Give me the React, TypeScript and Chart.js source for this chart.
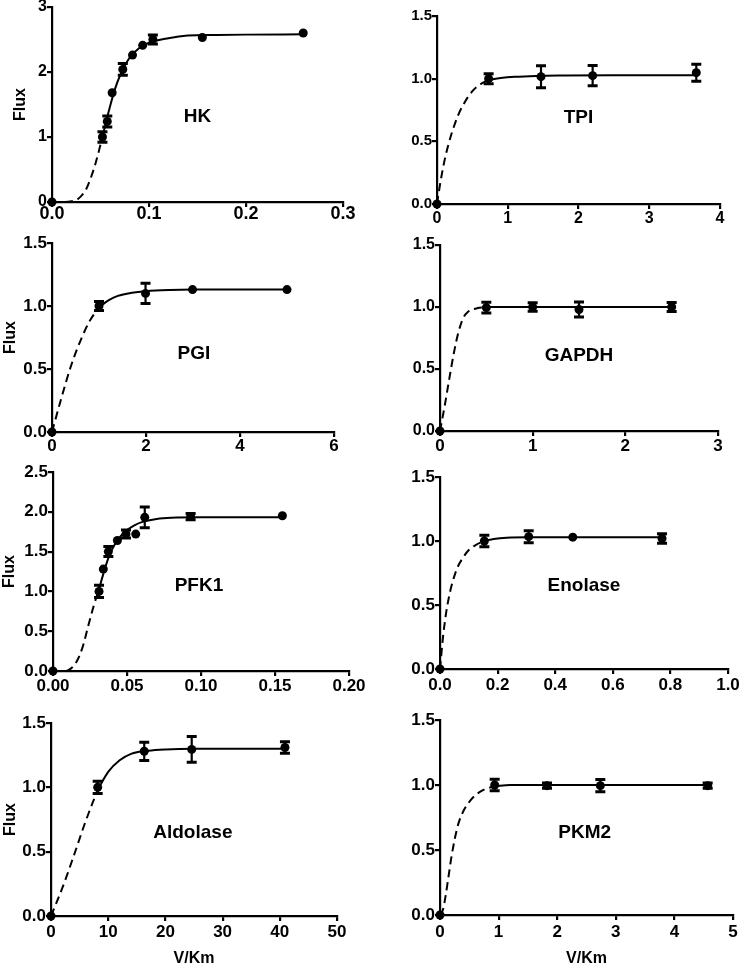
import React, { useEffect, useRef } from "react";
import { Chart, registerables } from "chart.js";

Chart.register(...registerables);

const INK = "#000000";
const FONT = "'Liberation Sans', Arial, sans-serif";

// ---------- HK ----------
const hkX = [0, 0.052, 0.057, 0.062, 0.073, 0.083, 0.0935, 0.104, 0.155, 0.259];
const hkFlux = [0, 1.0, 1.24, 1.68, 2.04, 2.26, 2.41, 2.5, 2.53, 2.6];
const hkErr = [0, 0.08, 0.085, 0, 0.09, 0, 0, 0.07, 0, 0];
const hkFitDashX = [0, 0.01, 0.02, 0.025, 0.03, 0.035, 0.04, 0.045, 0.052];
const hkFitDashY = [0, 0, 0.01, 0.03, 0.09, 0.19, 0.37, 0.6, 1.0];
const hkFitX = [0.052, 0.055, 0.06, 0.065, 0.07, 0.08, 0.09, 0.1, 0.12, 0.14, 0.17, 0.2, 0.26];
const hkFitY = [1.0, 1.19, 1.48, 1.74, 1.94, 2.22, 2.37, 2.45, 2.52, 2.56, 2.57, 2.575, 2.58];
const hkXTicks = [0, 0.1, 0.2, 0.3];
const hkYTicks = [0, 1, 2, 3];

// ---------- TPI ----------
const tpiX = [0, 0.73, 1.47, 2.2, 3.665];
const tpiFlux = [0, 1.0, 1.016, 1.024, 1.048];
const tpiErr = [0, 0.04, 0.088, 0.081, 0.068];
const tpiFitDashX = [0, 0.05, 0.1, 0.15, 0.2, 0.3, 0.4, 0.5, 0.6, 0.73];
const tpiFitDashY = [0, 0.18, 0.33, 0.45, 0.55, 0.71, 0.82, 0.9, 0.95, 0.99];
const tpiFitX = [0.73, 0.9, 1.1, 1.4, 1.8, 2.5, 3.665];
const tpiFitY = [0.99, 1.005, 1.015, 1.022, 1.025, 1.027, 1.027];
const tpiXTicks = [0, 1, 2, 3, 4];
const tpiYTicks = [0, 0.5, 1.0, 1.5];

// ---------- PGI ----------
const pgiX = [0, 1.0, 1.99, 2.99, 5.0];
const pgiFlux = [0, 1.0, 1.1, 1.13, 1.13];
const pgiErr = [0, 0.036, 0.08, 0, 0];
const pgiFitDashX = [0, 0.2, 0.4, 0.6, 0.8, 1.0];
const pgiFitDashY = [0, 0.27, 0.52, 0.72, 0.88, 0.99];
const pgiFitX = [1.0, 1.2, 1.4, 1.7, 2.0, 2.5, 3.0, 5.0];
const pgiFitY = [0.99, 1.045, 1.08, 1.105, 1.118, 1.127, 1.13, 1.13];
const pgiXTicks = [0, 2, 4, 6];
const pgiYTicks = [0, 0.5, 1.0, 1.5];

// ---------- GAPDH ----------
const gapdhX = [0, 0.5, 1.0, 1.5, 2.5];
const gapdhFlux = [0, 0.995, 1.0, 0.98, 1.0];
const gapdhErr = [0, 0.043, 0.034, 0.06, 0.036];
const gapdhFitDashX = [0, 0.05, 0.1, 0.15, 0.2, 0.25, 0.3, 0.4, 0.5];
const gapdhFitDashY = [0, 0.2, 0.42, 0.63, 0.8, 0.91, 0.96, 0.99, 1.0];
const gapdhFitX = [0.5, 2.5];
const gapdhFitY = [1.0, 1.0];
const gapdhXTicks = [0, 1, 2, 3];
const gapdhYTicks = [0, 0.5, 1.0, 1.5];

// ---------- PFK1 ----------
const pfkX = [0, 0.0311, 0.034, 0.0374, 0.0435, 0.0493, 0.0559, 0.062, 0.093, 0.155];
const pfkFlux = [0, 1.0, 1.28, 1.5, 1.64, 1.72, 1.72, 1.93, 1.94, 1.95];
const pfkErr = [0, 0.077, 0, 0.063, 0, 0.05, 0, 0.13, 0.04, 0];
const pfkFitDashX = [0, 0.008, 0.012, 0.016, 0.02, 0.024, 0.028, 0.031];
const pfkFitDashY = [0, 0, 0.03, 0.12, 0.3, 0.58, 0.85, 1.02];
const pfkFitX = [0.031, 0.034, 0.038, 0.042, 0.046, 0.05, 0.055, 0.06, 0.07, 0.08, 0.1, 0.155];
const pfkFitY = [1.02, 1.22, 1.45, 1.6, 1.7, 1.77, 1.83, 1.87, 1.91, 1.925, 1.93, 1.93];
const pfkXTicks = [0, 0.05, 0.1, 0.15, 0.2];
const pfkYTicks = [0, 0.5, 1.0, 1.5, 2.0, 2.5];

// ---------- Enolase ----------
const enoX = [0, 0.154, 0.308, 0.461, 0.771];
const enoFlux = [0, 1.0, 1.034, 1.03, 1.02];
const enoErr = [0, 0.045, 0.047, 0, 0.037];
const enoFitDashX = [0, 0.01, 0.02, 0.03, 0.04, 0.06, 0.08, 0.1, 0.125, 0.154];
const enoFitDashY = [0, 0.24, 0.42, 0.55, 0.65, 0.79, 0.87, 0.93, 0.97, 1.0];
const enoFitX = [0.154, 0.2, 0.25, 0.3, 0.771];
const enoFitY = [1.0, 1.02, 1.028, 1.03, 1.03];
const enoXTicks = [0, 0.2, 0.4, 0.6, 0.8, 1.0];
const enoYTicks = [0, 0.5, 1.0, 1.5];

// ---------- Aldolase ----------
const aldoX = [0, 8.16, 16.3, 24.6, 40.9];
const aldoFlux = [0, 1.0, 1.28, 1.295, 1.31];
const aldoErr = [0, 0.048, 0.071, 0.1, 0.045];
const aldoFitDashX = [0, 2, 4, 6, 8.16];
const aldoFitDashY = [0, 0.22, 0.47, 0.73, 0.98];
const aldoFitX = [8.16, 10, 12, 14, 17, 20, 25, 40.9];
const aldoFitY = [0.98, 1.12, 1.21, 1.26, 1.285, 1.295, 1.3, 1.3];
const aldoXTicks = [0, 10, 20, 30, 40, 50];
const aldoYTicks = [0, 0.5, 1.0, 1.5];

// ---------- PKM2 ----------
const pkmX = [0, 0.933, 1.826, 2.736, 4.568];
const pkmFlux = [0, 1.0, 0.995, 0.995, 0.995];
const pkmErr = [0, 0.044, 0.02, 0.047, 0.02];
const pkmFitDashX = [0, 0.05, 0.1, 0.15, 0.2, 0.3, 0.4, 0.5, 0.6, 0.75, 0.933];
const pkmFitDashY = [0, 0.04, 0.16, 0.31, 0.46, 0.68, 0.8, 0.87, 0.92, 0.965, 0.99];
const pkmFitX = [0.933, 1.2, 4.568];
const pkmFitY = [0.99, 1.0, 1.0];
const pkmXTicks = [0, 1, 2, 3, 4, 5];
const pkmYTicks = [0, 0.5, 1.0, 1.5];

type Panel = {
  name: string;
  px: number[]; py: number[]; pe: number[];
  dx: number[]; dy: number[]; sx: number[]; sy: number[];
  xTicks: number[]; yTicks: number[]; xDec: number; yDec: number;
  L: number; R: number; T: number; B: number;
  left: number; width: number; bottom: number;
  xFont: number; yFont: number; xPad: number;
  labelX: number; labelY: number;
  fluxPad?: number; vkm?: boolean;
};

const panels: Panel[] = [
  { name: "HK", px: hkX, py: hkFlux, pe: hkErr, dx: hkFitDashX, dy: hkFitDashY, sx: hkFitX, sy: hkFitY,
    xTicks: hkXTicks, yTicks: hkYTicks, xDec: 1, yDec: 0, L: 52, R: 343, T: 7, B: 202, left: 0, width: 372, bottom: 234,
    xFont: 18, yFont: 16, xPad: -4, labelX: 0.15, labelY: 1.31, fluxPad: 11.4 },
  { name: "TPI", px: tpiX, py: tpiFlux, pe: tpiErr, dx: tpiFitDashX, dy: tpiFitDashY, sx: tpiFitX, sy: tpiFitY,
    xTicks: tpiXTicks, yTicks: tpiYTicks, xDec: 0, yDec: 1, L: 437, R: 720, T: 16, B: 204, left: 372, width: 373, bottom: 236,
    xFont: 16, yFont: 15, xPad: 0, labelX: 2.0, labelY: 0.69 },
  { name: "PGI", px: pgiX, py: pgiFlux, pe: pgiErr, dx: pgiFitDashX, dy: pgiFitDashY, sx: pgiFitX, sy: pgiFitY,
    xTicks: pgiXTicks, yTicks: pgiYTicks, xDec: 0, yDec: 1, L: 52, R: 334, T: 243, B: 432, left: 0, width: 372, bottom: 464,
    xFont: 17, yFont: 17, xPad: -1, labelX: 3.02, labelY: 0.62, fluxPad: 1.4 },
  { name: "GAPDH", px: gapdhX, py: gapdhFlux, pe: gapdhErr, dx: gapdhFitDashX, dy: gapdhFitDashY, sx: gapdhFitX, sy: gapdhFitY,
    xTicks: gapdhXTicks, yTicks: gapdhYTicks, xDec: 0, yDec: 1, L: 440, R: 718, T: 245, B: 431, left: 372, width: 373, bottom: 463,
    xFont: 17, yFont: 16, xPad: 0, labelX: 1.5, labelY: 0.61 },
  { name: "PFK1", px: pfkX, py: pfkFlux, pe: pfkErr, dx: pfkFitDashX, dy: pfkFitDashY, sx: pfkFitX, sy: pfkFitY,
    xTicks: pfkXTicks, yTicks: pfkYTicks, xDec: 2, yDec: 1, L: 53, R: 349, T: 472, B: 671, left: 0, width: 372, bottom: 703,
    xFont: 17, yFont: 17, xPad: 0, labelX: 0.0986, labelY: 1.07, fluxPad: 0.4 },
  { name: "Enolase", px: enoX, py: enoFlux, pe: enoErr, dx: enoFitDashX, dy: enoFitDashY, sx: enoFitX, sy: enoFitY,
    xTicks: enoXTicks, yTicks: enoYTicks, xDec: 1, yDec: 1, L: 440, R: 728, T: 477, B: 669, left: 372, width: 373, bottom: 701,
    xFont: 17, yFont: 17, xPad: 1, labelX: 0.5, labelY: 0.65 },
  { name: "Aldolase", px: aldoX, py: aldoFlux, pe: aldoErr, dx: aldoFitDashX, dy: aldoFitDashY, sx: aldoFitX, sy: aldoFitY,
    xTicks: aldoXTicks, yTicks: aldoYTicks, xDec: 0, yDec: 1, L: 51, R: 337, T: 723, B: 916, left: 0, width: 372, bottom: 970,
    xFont: 17, yFont: 17, xPad: 1, labelX: 24.8, labelY: 0.65, fluxPad: 1.4, vkm: true },
  { name: "PKM2", px: pkmX, py: pkmFlux, pe: pkmErr, dx: pkmFitDashX, dy: pkmFitDashY, sx: pkmFitX, sy: pkmFitY,
    xTicks: pkmXTicks, yTicks: pkmYTicks, xDec: 0, yDec: 1, L: 440, R: 733, T: 720, B: 915, left: 372, width: 373, bottom: 970,
    xFont: 17, yFont: 17, xPad: 2, labelX: 2.47, labelY: 0.63, vkm: true },
];

const TOP_PAD = 14;

function pts(xs: number[], ys: number[]) {
  return xs.map((x, i) => ({ x, y: ys[i] }));
}

function PanelChart({ p }: { p: Panel }) {
  const ref = useRef<HTMLCanvasElement | null>(null);
  const top = p.T - TOP_PAD;
  const height = p.bottom - top;

  useEffect(() => {
    const canvas = ref.current;
    if (!canvas) return;

    const errorBars = {
      id: "errorBars" + p.name,
      afterDatasetsDraw(chart: any) {
        const xs = chart.scales.x;
        const ys = chart.scales.y;
        const ctx = chart.ctx;
        ctx.save();
        ctx.strokeStyle = INK;
        p.px.forEach((x, i) => {
          const e = p.pe[i];
          if (!e) return;
          const cx = xs.getPixelForValue(x);
          const yt = ys.getPixelForValue(p.py[i] + e);
          const yb = ys.getPixelForValue(p.py[i] - e);
          ctx.lineWidth = 2.2;
          ctx.beginPath();
          ctx.moveTo(cx, yt);
          ctx.lineTo(cx, yb);
          ctx.stroke();
          ctx.lineWidth = 3;
          ctx.beginPath();
          ctx.moveTo(cx - 5, yt);
          ctx.lineTo(cx + 5, yt);
          ctx.moveTo(cx - 5, yb);
          ctx.lineTo(cx + 5, yb);
          ctx.stroke();
        });
        ctx.restore();
      },
    };

    const panelLabel = {
      id: "panelLabel" + p.name,
      afterDraw(chart: any) {
        const ctx = chart.ctx;
        const x = chart.scales.x.getPixelForValue(p.labelX);
        const y = chart.scales.y.getPixelForValue(p.labelY);
        ctx.save();
        ctx.fillStyle = INK;
        ctx.font = `bold 19px ${FONT}`;
        ctx.textAlign = "center";
        ctx.textBaseline = "middle";
        ctx.fillText(p.name, x, y);
        ctx.restore();
      },
    };

    const axisCommon = {
      grid: { display: true, drawOnChartArea: false, drawTicks: true, tickLength: 5, lineWidth: 2.2, color: INK },
      border: { display: true, color: INK, width: 2.2 },
    };

    const chart = new Chart(canvas, {
      type: "scatter",
      data: {
        datasets: [
          {
            data: pts(p.px, p.py),
            pointRadius: 4.5,
            pointBackgroundColor: INK,
            pointBorderColor: INK,
            pointBorderWidth: 0,
            showLine: false,
            clip: false,
          } as any,
          {
            data: pts(p.sx, p.sy),
            showLine: true,
            borderColor: INK,
            borderWidth: 2,
            pointRadius: 0,
            cubicInterpolationMode: "monotone",
            clip: false,
          } as any,
          {
            data: pts(p.dx, p.dy),
            showLine: true,
            borderColor: INK,
            borderWidth: 2,
            borderDash: [8, 5],
            pointRadius: 0,
            cubicInterpolationMode: "monotone",
            clip: false,
          } as any,
        ],
      },
      options: {
        responsive: false,
        maintainAspectRatio: false,
        animation: false,
        events: [],
        layout: { padding: { top: TOP_PAD, right: p.left + p.width - p.R, left: 0, bottom: 0 } },
        plugins: { legend: { display: false }, tooltip: { enabled: false } },
        scales: {
          x: {
            type: "linear",
            position: "bottom",
            min: p.xTicks[0],
            max: p.xTicks[p.xTicks.length - 1],
            afterBuildTicks: (s: any) => {
              s.ticks = p.xTicks.map((v) => ({ value: v }));
            },
            afterFit: (s: any) => {
              s.height = p.bottom - p.B;
            },
            ticks: {
              color: INK,
              font: { family: FONT, weight: "bold", size: p.xFont },
              padding: p.xPad,
              maxRotation: 0,
              autoSkip: false,
              callback: (v: any) => Number(v).toFixed(p.xDec),
            },
            title: {
              display: !!p.vkm,
              text: "V/Km",
              color: INK,
              font: { family: FONT, weight: "bold", size: 16 },
              padding: { top: 0, bottom: 1.4 },
            },
            ...axisCommon,
          },
          y: {
            type: "linear",
            position: "left",
            min: p.yTicks[0],
            max: p.yTicks[p.yTicks.length - 1],
            afterBuildTicks: (s: any) => {
              s.ticks = p.yTicks.map((v) => ({ value: v }));
            },
            afterFit: (s: any) => {
              s.width = p.L - p.left;
            },
            ticks: {
              color: INK,
              font: { family: FONT, weight: "bold", size: p.yFont },
              padding: 0,
              autoSkip: false,
              callback: (v: any) => Number(v).toFixed(p.yDec),
            },
            title: {
              display: p.fluxPad !== undefined,
              text: "Flux",
              color: INK,
              font: { family: FONT, weight: "bold", size: 16 },
              padding: { top: p.fluxPad ?? 0, bottom: 0 },
            },
            ...axisCommon,
          },
        },
      } as any,
      plugins: [errorBars, panelLabel],
    });
    return () => chart.destroy();
  }, [p]);

  return (
    <canvas
      ref={ref}
      width={p.width}
      height={height}
      style={{ position: "absolute", left: p.left, top, width: p.width, height }}
    />
  );
}

export default function App() {
  return (
    <div
      style={{
        position: "absolute",
        left: 0,
        top: 0,
        width: 745,
        height: 970,
        overflow: "hidden",
        background: "#ffffff",
      }}
    >
      {panels.map((p) => (
        <PanelChart key={p.name} p={p} />
      ))}
    </div>
  );
}
